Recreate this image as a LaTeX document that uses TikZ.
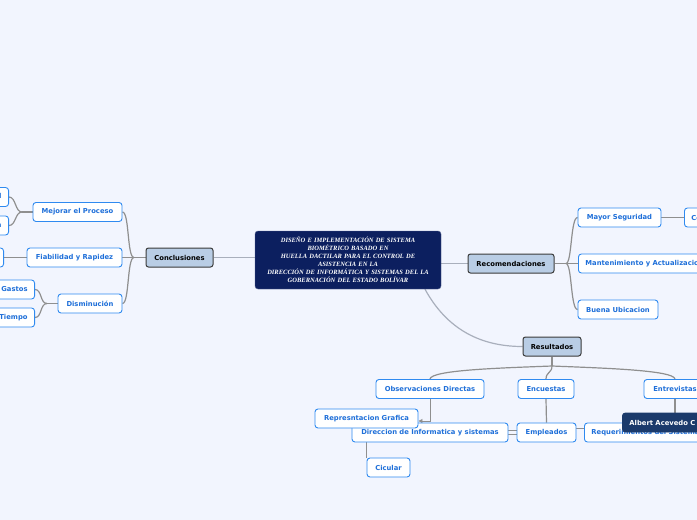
\documentclass[tikz,border=0pt]{standalone}
\usepackage{fontspec}
\usepackage{tikz}
\usetikzlibrary{arrows.meta, positioning}
\newfontfamily\mapfont{DejaVu Sans}
\newfontfamily\titlefont{Liberation Serif}
\definecolor{pageBg}{HTML}{F2F5FE}
\definecolor{coreBg}{HTML}{0C1F5F}
\definecolor{topicBg}{HTML}{B9CDE5}
\definecolor{topicLine}{HTML}{3A3A3A}
\definecolor{subLine}{HTML}{2F8AF0}
\definecolor{subText}{HTML}{1E6FD9}
\definecolor{nameBg}{HTML}{1B3A6B}
\definecolor{branchGray}{HTML}{8F8F8F}
\definecolor{coreGray}{HTML}{A9AFBC}
\pgfdeclarelayer{bg}
\pgfsetlayers{bg,main}

\begin{document}
\begin{tikzpicture}[
          x=1pt, y=-1pt,
          core/.style={fill=coreBg, draw=coreBg!70!white, rounded corners=3pt, text=white, font=\titlefont\bfseries\itshape\fontsize{6.5}{8}\selectfont, align=center, minimum width=186pt, minimum height=58pt, text width=180pt, inner sep=2pt},
          topic/.style={fill=topicBg, draw=topicLine, line width=1pt, rounded corners=2.5pt, text=black, font=\mapfont\bfseries\fontsize{6.8}{8}\selectfont, minimum height=19pt, inner xsep=6pt},
          sub/.style={fill=white, draw=subLine, line width=0.9pt, rounded corners=3pt, text=subText, font=\mapfont\bfseries\fontsize{6.8}{8}\selectfont, minimum height=19pt, inner xsep=7pt},
          person/.style={sub, fill=nameBg, draw=nameBg, text=white},
          br/.style={draw=branchGray, line width=1.2pt},
          trunk/.style={draw=coreGray, line width=1.2pt},
          rel/.style={draw=branchGray, line width=0.9pt, -{Triangle[length=4pt, width=4pt]}}
        ]
        \begin{pgfonlayer}{bg}
          \fill[pageBg] (0,0) rectangle (697,520);
        \end{pgfonlayer}
        \useasboundingbox (0,0) rectangle (697,520);
        % centre
        \node[core] (core) at (348,260) {DISEÑO E IMPLEMENTACIÓN DE SISTEMA\\BIOMÉTRICO BASADO EN\\HUELLA DACTILAR PARA EL CONTROL DE\\ASISTENCIA EN LA\\DIRECCIÓN DE INFORMÁTICA Y SISTEMAS DEL LA\\GOBERNACIÓN DEL ESTADO BOLÍVAR};
        % main topics
        \node[topic, minimum width=67pt] (conc) at (179.5,257.5) {Conclusiones};
        \node[topic, minimum width=86pt] (reco) at (511,263.5) {Recomendaciones};
        \node[topic, minimum width=58pt] (resu) at (552,346.5) {Resultados};
        % Conclusiones
        \node[sub, minimum width=89pt] (mejo) at (77.5,212) {Mejorar el Proceso};
        \node[sub, minimum width=95pt] (fiab) at (74.5,257.5) {Fiabilidad y Rapidez};
        \node[sub, minimum width=64pt] (dism) at (90,303.5) {Disminución};
        \node[sub, anchor=east] (segu) at (9,197) {Seguridad};
        \node[sub, anchor=east] (opti) at (9,225.5) {Optimización};
        \node[sub, anchor=east] (efic) at (4,257.5) {Eficiencia};
        \node[sub, anchor=east] (gast) at (35,289.5) {Gastos};
        \node[sub, anchor=east] (tiem) at (35,317.5) {Tiempo};
        % Recomendaciones
        \node[sub, minimum width=83pt] (mayo) at (619.5,217.5) {Mayor Seguridad};
        \node[sub, anchor=west] (cont) at (684,217.5) {Control};
        \node[sub, anchor=west] (mant) at (578,263.5) {Mantenimiento y Actualizacion};
        \node[sub, minimum width=80pt] (buen) at (618,309.5) {Buena Ubicacion};
        % Resultados
        \node[sub, minimum width=108pt] (obse) at (430,389) {Observaciones Directas};
        \node[sub, minimum width=56pt] (encu) at (546,389) {Encuestas};
        \node[sub, minimum width=62pt] (entr) at (675,389) {Entrevistas};
        \node[sub, minimum width=156pt] (dire) at (430,432.5) {Direccion de Informatica y sistemas};
        \node[sub, minimum width=103pt] (repr) at (366.5,418.5) {Represntacion Grafica};
        \node[sub, minimum width=59pt] (empl) at (546.5,432.5) {Empleados};
        \node[sub, anchor=west] (requ) at (584,432.5) {Requerimientos del Sistema};
        \node[person, anchor=west] (albe) at (622,422.5) {Albert Acevedo C};
        \node[sub, minimum width=43pt] (cicu) at (388.5,467.5) {Cicular};
        % junctions
        \coordinate (jconc) at (134,257.5);
        \coordinate (jmejo) at (22,212);
        \coordinate (jdism) at (47,303.5);
        \coordinate (jreco) at (566,263.5);
        \coordinate (jresu) at (552,366);
        \begin{pgfonlayer}{bg}
          \draw[trunk] (conc.east) -- (conc.east -| core.west);
          \draw[trunk] (reco.west -| core.east) -- (reco.west);
          \draw[trunk] ([xshift=77pt]core.south) .. controls (450,335) and (488,346.5) .. (resu.west);
          \draw[br] (conc.west) -- (jconc);
          \draw[br] (jconc) .. controls +(-7,0) and +(7,0) .. (mejo.east);
          \draw[br] (jconc) -- (fiab.east);
          \draw[br] (jconc) .. controls +(-7,0) and +(7,0) .. (dism.east);
          \draw[br] (mejo.west) -- (jmejo);
          \draw[br] (jmejo) .. controls +(-7,0) and +(7,0) .. (segu.east);
          \draw[br] (jmejo) .. controls +(-7,0) and +(7,0) .. (opti.east);
          \draw[br] (fiab.west) -- (efic.east);
          \draw[br] (dism.west) -- (jdism);
          \draw[br] (jdism) .. controls +(-7,0) and +(7,0) .. (gast.east);
          \draw[br] (jdism) .. controls +(-7,0) and +(7,0) .. (tiem.east);
          \draw[br] (reco.east) -- (jreco);
          \draw[br] (jreco) .. controls +(6,0) and +(-7,0) .. (mayo.west);
          \draw[br] (jreco) -- (mant.west);
          \draw[br] (jreco) .. controls +(6,0) and +(-7,0) .. (buen.west);
          \draw[br] (mayo.east) -- (cont.west);
          \draw[br] (resu.south) -- (jresu);
          \draw[br] (jresu) .. controls (500,368) and (431,370) .. (obse.north);
          \draw[br] (jresu) .. controls (552,373) and (546,372) .. (encu.north);
          \draw[br] (jresu) .. controls (600,368) and (674,370) .. (entr.north);
          \draw[rel] (obse.south) |- ([yshift=-2.5pt]repr.east);
          \draw[br] (encu.south) -- (empl.north);
          \draw[br] (entr.south) -- (entr.south |- albe.north);
          \draw[br, line width=0.9pt] ([yshift=2pt]dire.east) -- ([yshift=2pt]empl.west);
          \draw[br, line width=0.9pt] ([yshift=-2pt]dire.east) -- ([yshift=-2pt]empl.west);
          \draw[br, line width=0.9pt] ([yshift=4pt]empl.east) -- ([yshift=4pt]requ.west);
          \draw[br] (dire.south -| cicu.west) -- (cicu.north west);
        \end{pgfonlayer}
      \end{tikzpicture}
\end{document}
